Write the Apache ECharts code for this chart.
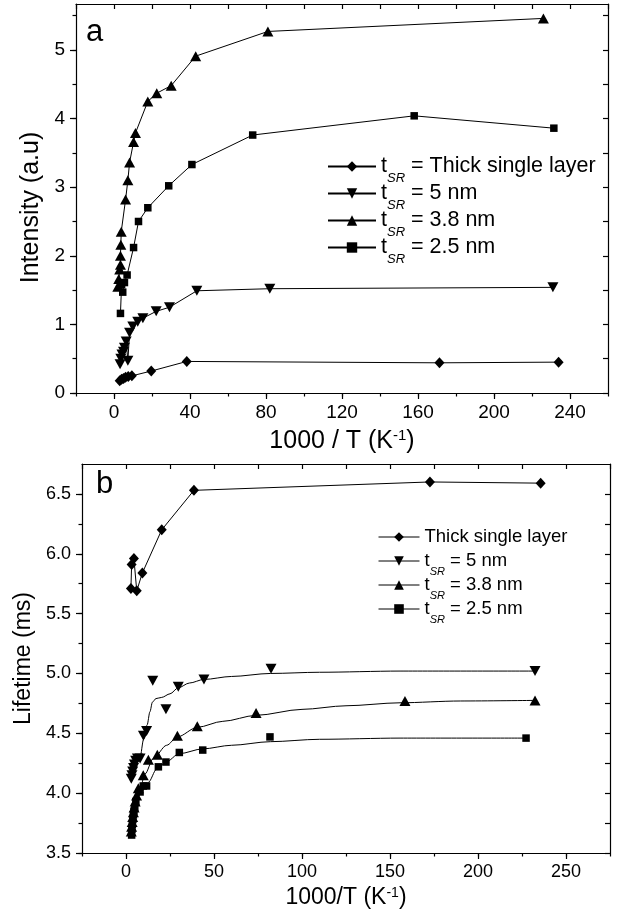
<!DOCTYPE html>
<html><head><meta charset="utf-8">
<script src="https://cdn.jsdelivr.net/npm/echarts@6/dist/echarts.min.js"></script>
<style>html,body{margin:0;padding:0;background:#fff}#c{width:622px;height:918px}</style>
</head><body><div id="c"></div>
<script>
// ---------- Panel a: Intensity (a.u) vs 1000/T ----------
const aThick = [[3.0,0.18],[4.0,0.20],[5.0,0.21],[6.1,0.23],[7.5,0.24],[9.4,0.25],[19.6,0.32],[38.3,0.46],[171.3,0.44],[234,0.45]];
const a5nm   = [[3.2,0.42],[3.6,0.50],[4.2,0.56],[5.0,0.60],[5.5,0.66],[6.4,0.75],[7.3,0.47],[8.2,0.88],[9.9,0.97],[12.5,1.04],[15.2,1.09],[22.2,1.19],[29.2,1.25],[43.6,1.49],[82,1.52],[231,1.54]];
const a38nm  = [[2.0,1.55],[2.5,1.66],[3.0,1.80],[3.4,1.87],[3.4,2.00],[3.6,2.16],[3.8,2.35],[6.1,2.82],[7.3,3.10],[8.2,3.36],[10.3,3.66],[11.3,3.79],[17.8,4.25],[22.5,4.37],[30.1,4.48],[43,4.91],[81,5.27],[226,5.46]];
const a25nm  = [[3.4,1.16],[4.0,1.58],[4.6,1.47],[5.5,1.61],[6.9,1.72],[10.3,2.12],[12.9,2.50],[17.8,2.70],[28.8,3.02],[41,3.33],[73,3.76],[158,4.04],[231.5,3.86]];
const aTicksX = [0,40,80,120,160,200,240];
const aTicksY = [0,1,2,3,4,5];

// ---------- Panel b: Lifetime (ms) vs 1000/T ----------
const bThick = [[2.8,5.71],[3.2,5.91],[4.5,5.96],[6.1,5.69],[9.3,5.84],[20.3,6.20],[38.6,6.53],[172.7,6.60],[235.6,6.59]];
const b5nm   = [[3.0,4.12],[3.4,4.15],[3.8,4.18],[4.3,4.21],[4.8,4.24],[5.5,4.27],[6.5,4.29],[8.0,4.29],[9.9,4.48],[11.7,4.52],[15.2,4.94],[22.7,4.70],[29.7,4.89],[44.3,4.95],[82.4,5.04],[232.4,5.02]];
const b38nm  = [[3.0,3.68],[3.2,3.72],[3.5,3.76],[3.8,3.80],[4.2,3.84],[4.6,3.88],[5.2,3.93],[6.0,3.98],[7.0,4.04],[9.8,4.15],[12.7,4.28],[17.8,4.32],[29.2,4.48],[40.5,4.56],[73.9,4.67],[158.5,4.77],[232.4,4.775]];
const b25nm  = [[3.2,3.65],[3.4,3.70],[3.6,3.74],[3.9,3.78],[4.2,3.82],[4.5,3.85],[5.0,3.88],[5.6,3.93],[8.0,4.01],[9.8,4.06],[11.7,4.06],[18.4,4.22],[22.7,4.26],[30.3,4.34],[43.6,4.36],[81.8,4.47],[227.3,4.46]];
// fitted curves drawn in panel b
const b5fit  = [[2.7,4.12],[5.0,4.22],[8.0,4.30],[10.0,4.45],[12.0,4.57],[13.6,4.68],[15.0,4.76],[17.0,4.79],[20.3,4.80],[25,4.83],[29.7,4.88],[36,4.92],[44.3,4.95],[60,4.975],[82,5.00],[110,5.01],[155.7,5.02],[232.4,5.02]];
const b38fit = [[2.7,3.67],[4.1,3.80],[7.0,3.97],[10.8,4.16],[15.5,4.29],[23.1,4.40],[29.2,4.47],[40.5,4.55],[55,4.60],[73.9,4.65],[100,4.70],[125,4.73],[155.7,4.755],[190,4.77],[232.4,4.775]];
const b25fit = [[3.2,3.65],[5.1,3.83],[8.0,4.00],[12.7,4.09],[17.4,4.20],[22.7,4.26],[30.3,4.33],[43.6,4.37],[60,4.40],[82,4.43],[110,4.45],[155.7,4.46],[227.3,4.46]];
const bTicksX = [0,50,100,150,200,250];
const bTicksY = [3.5,4.0,4.5,5.0,5.5,6.0,6.5];

const legendA = {a1:['t','SR',' = Thick single layer'], a2:['t','SR',' = 5 nm'], a3:['t','SR',' = 3.8 nm'], a4:['t','SR',' = 2.5 nm']};
const legendB = {b1:['Thick single layer','',''], b2:['t','SR',' = 5 nm'], b3:['t','SR',' = 3.8 nm'], b4:['t','SR',' = 2.5 nm']};

function steps(a, b, s){ const r=[]; for(let v=a; v<=b+1e-9; v+=s) r.push(+v.toFixed(4)); return r; }

const FONT = 'Liberation Sans, Arial, Helvetica, sans-serif';
const BLACK = '#000';
const DOWN = 'path://M0,0 L10,0 L5,9 Z';

function mainX(grid, min, max, ticks, name, fs, nfs, gap, margin){
  return {type:'value', gridIndex:grid, position:'bottom', min, max,
    axisLine:{show:true, onZero:false, lineStyle:{color:BLACK, width:1.2}},
    axisTick:{show:true, customValues:ticks, length:6, lineStyle:{color:BLACK, width:1.2}},
    axisLabel:{show:true, customValues:ticks, color:BLACK, fontFamily:FONT, fontSize:fs, margin},
    splitLine:{show:false},
    name, nameLocation:'middle', nameGap:gap,
    nameTextStyle:{color:BLACK, fontFamily:FONT, fontSize:nfs, rich:{n:{fontFamily:FONT,fontSize:nfs,color:BLACK}, sup:{fontFamily:FONT,fontSize:Math.round(nfs*0.6),color:BLACK,padding:[0,0,Math.round(nfs*0.45),0]}}}};
}
function minorX(grid, min, max, vals){
  return {type:'value', gridIndex:grid, position:'bottom', min, max,
    axisLine:{show:false, onZero:false}, axisTick:{show:true, customValues:vals, length:3.5, lineStyle:{color:BLACK, width:1.2}},
    axisLabel:{show:false}, splitLine:{show:false}};
}
function topX(grid, min, max, vals){
  return {type:'value', gridIndex:grid, position:'top', min, max,
    axisLine:{show:true, onZero:false, lineStyle:{color:BLACK, width:1.2}},
    axisTick:{show:true, inside:true, customValues:vals, length:5, lineStyle:{color:BLACK, width:1.2}},
    axisLabel:{show:false}, splitLine:{show:false}};
}
function mainY(grid, min, max, ticks, name, fs, nfs, gap, margin, fmt, pad){
  return {type:'value', gridIndex:grid, position:'left', min, max,
    axisLine:{show:true, onZero:false, lineStyle:{color:BLACK, width:1.2}},
    axisTick:{show:true, customValues:ticks, length:6, lineStyle:{color:BLACK, width:1.2}},
    axisLabel:{show:true, customValues:ticks, color:BLACK, fontFamily:FONT, fontSize:fs, margin, formatter:fmt},
    splitLine:{show:false},
    name, nameLocation:'middle', nameGap:gap, nameRotate:90,
    nameTextStyle:{color:BLACK, fontFamily:FONT, fontSize:nfs, padding:pad}};
}
function minorY(grid, min, max, vals){
  return {type:'value', gridIndex:grid, position:'left', min, max,
    axisLine:{show:false, onZero:false}, axisTick:{show:true, customValues:vals, length:3.5, lineStyle:{color:BLACK, width:1.2}},
    axisLabel:{show:false}, splitLine:{show:false}};
}
function rightY(grid, min, max, vals){
  return {type:'value', gridIndex:grid, position:'right', min, max,
    axisLine:{show:true, onZero:false, lineStyle:{color:BLACK, width:1.2}},
    axisTick:{show:true, inside:true, customValues:vals, length:5, lineStyle:{color:BLACK, width:1.2}},
    axisLabel:{show:false}, splitLine:{show:false}};
}

function lineSeries(name, data, xi, yi, symbol, size, showLine){
  return {type:'line', name, data, xAxisIndex:xi, yAxisIndex:yi, symbol, symbolSize:size, showSymbol:true,
    itemStyle:{color:BLACK, borderWidth:0}, lineStyle: showLine ? {color:BLACK, width:1} : {color:BLACK, width:0, opacity:0},
    animation:false, z:3};
}
function fitSeries(name, data){
  return {type:'line', name, data, xAxisIndex:3, yAxisIndex:3, symbol:'none', smooth:0.3, smoothMonotone:'x',
    lineStyle:{color:BLACK, width:1}, animation:false, z:2};
}

function richFmt(map){
  return function(name){
    const p = map[name];
    if (!p[1]) return '{t|' + p[0] + '}{s| }';
    return '{t|' + p[0] + '}{s|' + p[1] + '}{t|' + p[2] + '}';
  };
}

const chart = echarts.init(document.getElementById('c'), null, {renderer:'canvas'});
chart.setOption({
  backgroundColor:'#fff',
  animation:false,
  title:[
    {text:'a', left:86, top:17, padding:0, textStyle:{fontFamily:FONT, fontSize:31, fontWeight:'normal', color:BLACK}},
    {text:'b', left:96, top:469, padding:0, textStyle:{fontFamily:FONT, fontSize:31, fontWeight:'normal', color:BLACK}}
  ],
  grid:[
    {left:76, right:14, top:4, bottom:525, containLabel:false},
    {left:82, right:12, top:464, bottom:65, containLabel:false}
  ],
  xAxis:[
    mainX(0, -20, 260, aTicksX, '{n|1000 / T (K}{sup|-1}{n|)}', 19, 25, 35, 10),
    minorX(0, -20, 260, steps(-20, 260, 20)),
    topX(0, -20, 260, steps(-20, 260, 20)),
    mainX(1, -25, 275, bTicksX, '{n|1000/T (K}{sup|-1}{n|)}', 18, 23, 33, 10),
    minorX(1, -25, 275, steps(-25, 275, 25)),
    topX(1, -25, 275, steps(-25, 275, 25))
  ],
  yAxis:[
    mainY(0, 0, 5.67, aTicksY, 'Intensity (a.u)', 19, 25, 32, 11, v => String(v), [0,18,0,0]),
    minorY(0, 0, 5.67, steps(0, 5.5, 0.5)),
    rightY(0, 0, 5.67, steps(0, 5.5, 0.5)),
    mainY(1, 3.5, 6.75, bTicksY, 'Lifetime (ms)', 18, 23, 40, 11, v => v.toFixed(1), [0,0,0,0]),
    minorY(1, 3.5, 6.75, steps(3.5, 6.5, 0.25)),
    rightY(1, 3.5, 6.75, steps(3.5, 6.5, 0.25))
  ],
  legend:[
    {data:['a1','a2','a3','a4'], orient:'vertical', left:327, top:148, padding:0, itemGap:-10,
     itemWidth:48, itemHeight:13, selectedMode:false, formatter:richFmt(legendA),
     textStyle:{color:BLACK, fontFamily:FONT, fontSize:21.5,
       rich:{t:{fontFamily:FONT, fontSize:21.5, lineHeight:37, color:BLACK},
             s:{fontFamily:FONT, fontSize:13, fontStyle:'italic', lineHeight:13, padding:[24,0,0,0], color:BLACK}}}},
    {data:['b1','b2','b3','b4'], orient:'vertical', left:378, top:521, padding:0, itemGap:-8,
     itemWidth:41, itemHeight:12, selectedMode:false, formatter:richFmt(legendB),
     lineStyle:{color:BLACK, width:1, opacity:1, type:'solid'},
     textStyle:{color:BLACK, fontFamily:FONT, fontSize:18.5,
       rich:{t:{fontFamily:FONT, fontSize:18.5, lineHeight:32, color:BLACK},
             s:{fontFamily:FONT, fontSize:11, fontStyle:'italic', lineHeight:11, padding:[21,0,0,0], color:BLACK}}}}
  ],
  series:[
    lineSeries('a1', aThick, 0, 0, 'diamond', [10,11], true),
    lineSeries('a2', a5nm, 0, 0, DOWN, [11,10], true),
    lineSeries('a3', a38nm, 0, 0, 'triangle', [11,10], true),
    lineSeries('a4', a25nm, 0, 0, 'rect', 7.5, true),
    lineSeries('b1', bThick, 3, 3, 'diamond', [10,11], true),
    lineSeries('b2', b5nm, 3, 3, DOWN, [11,10], false),
    lineSeries('b3', b38nm, 3, 3, 'triangle', [11,10], false),
    lineSeries('b4', b25nm, 3, 3, 'rect', 7.5, false),
    fitSeries('b2fit', b5fit),
    fitSeries('b3fit', b38fit),
    fitSeries('b4fit', b25fit)
  ]
});
</script>
</body></html>
